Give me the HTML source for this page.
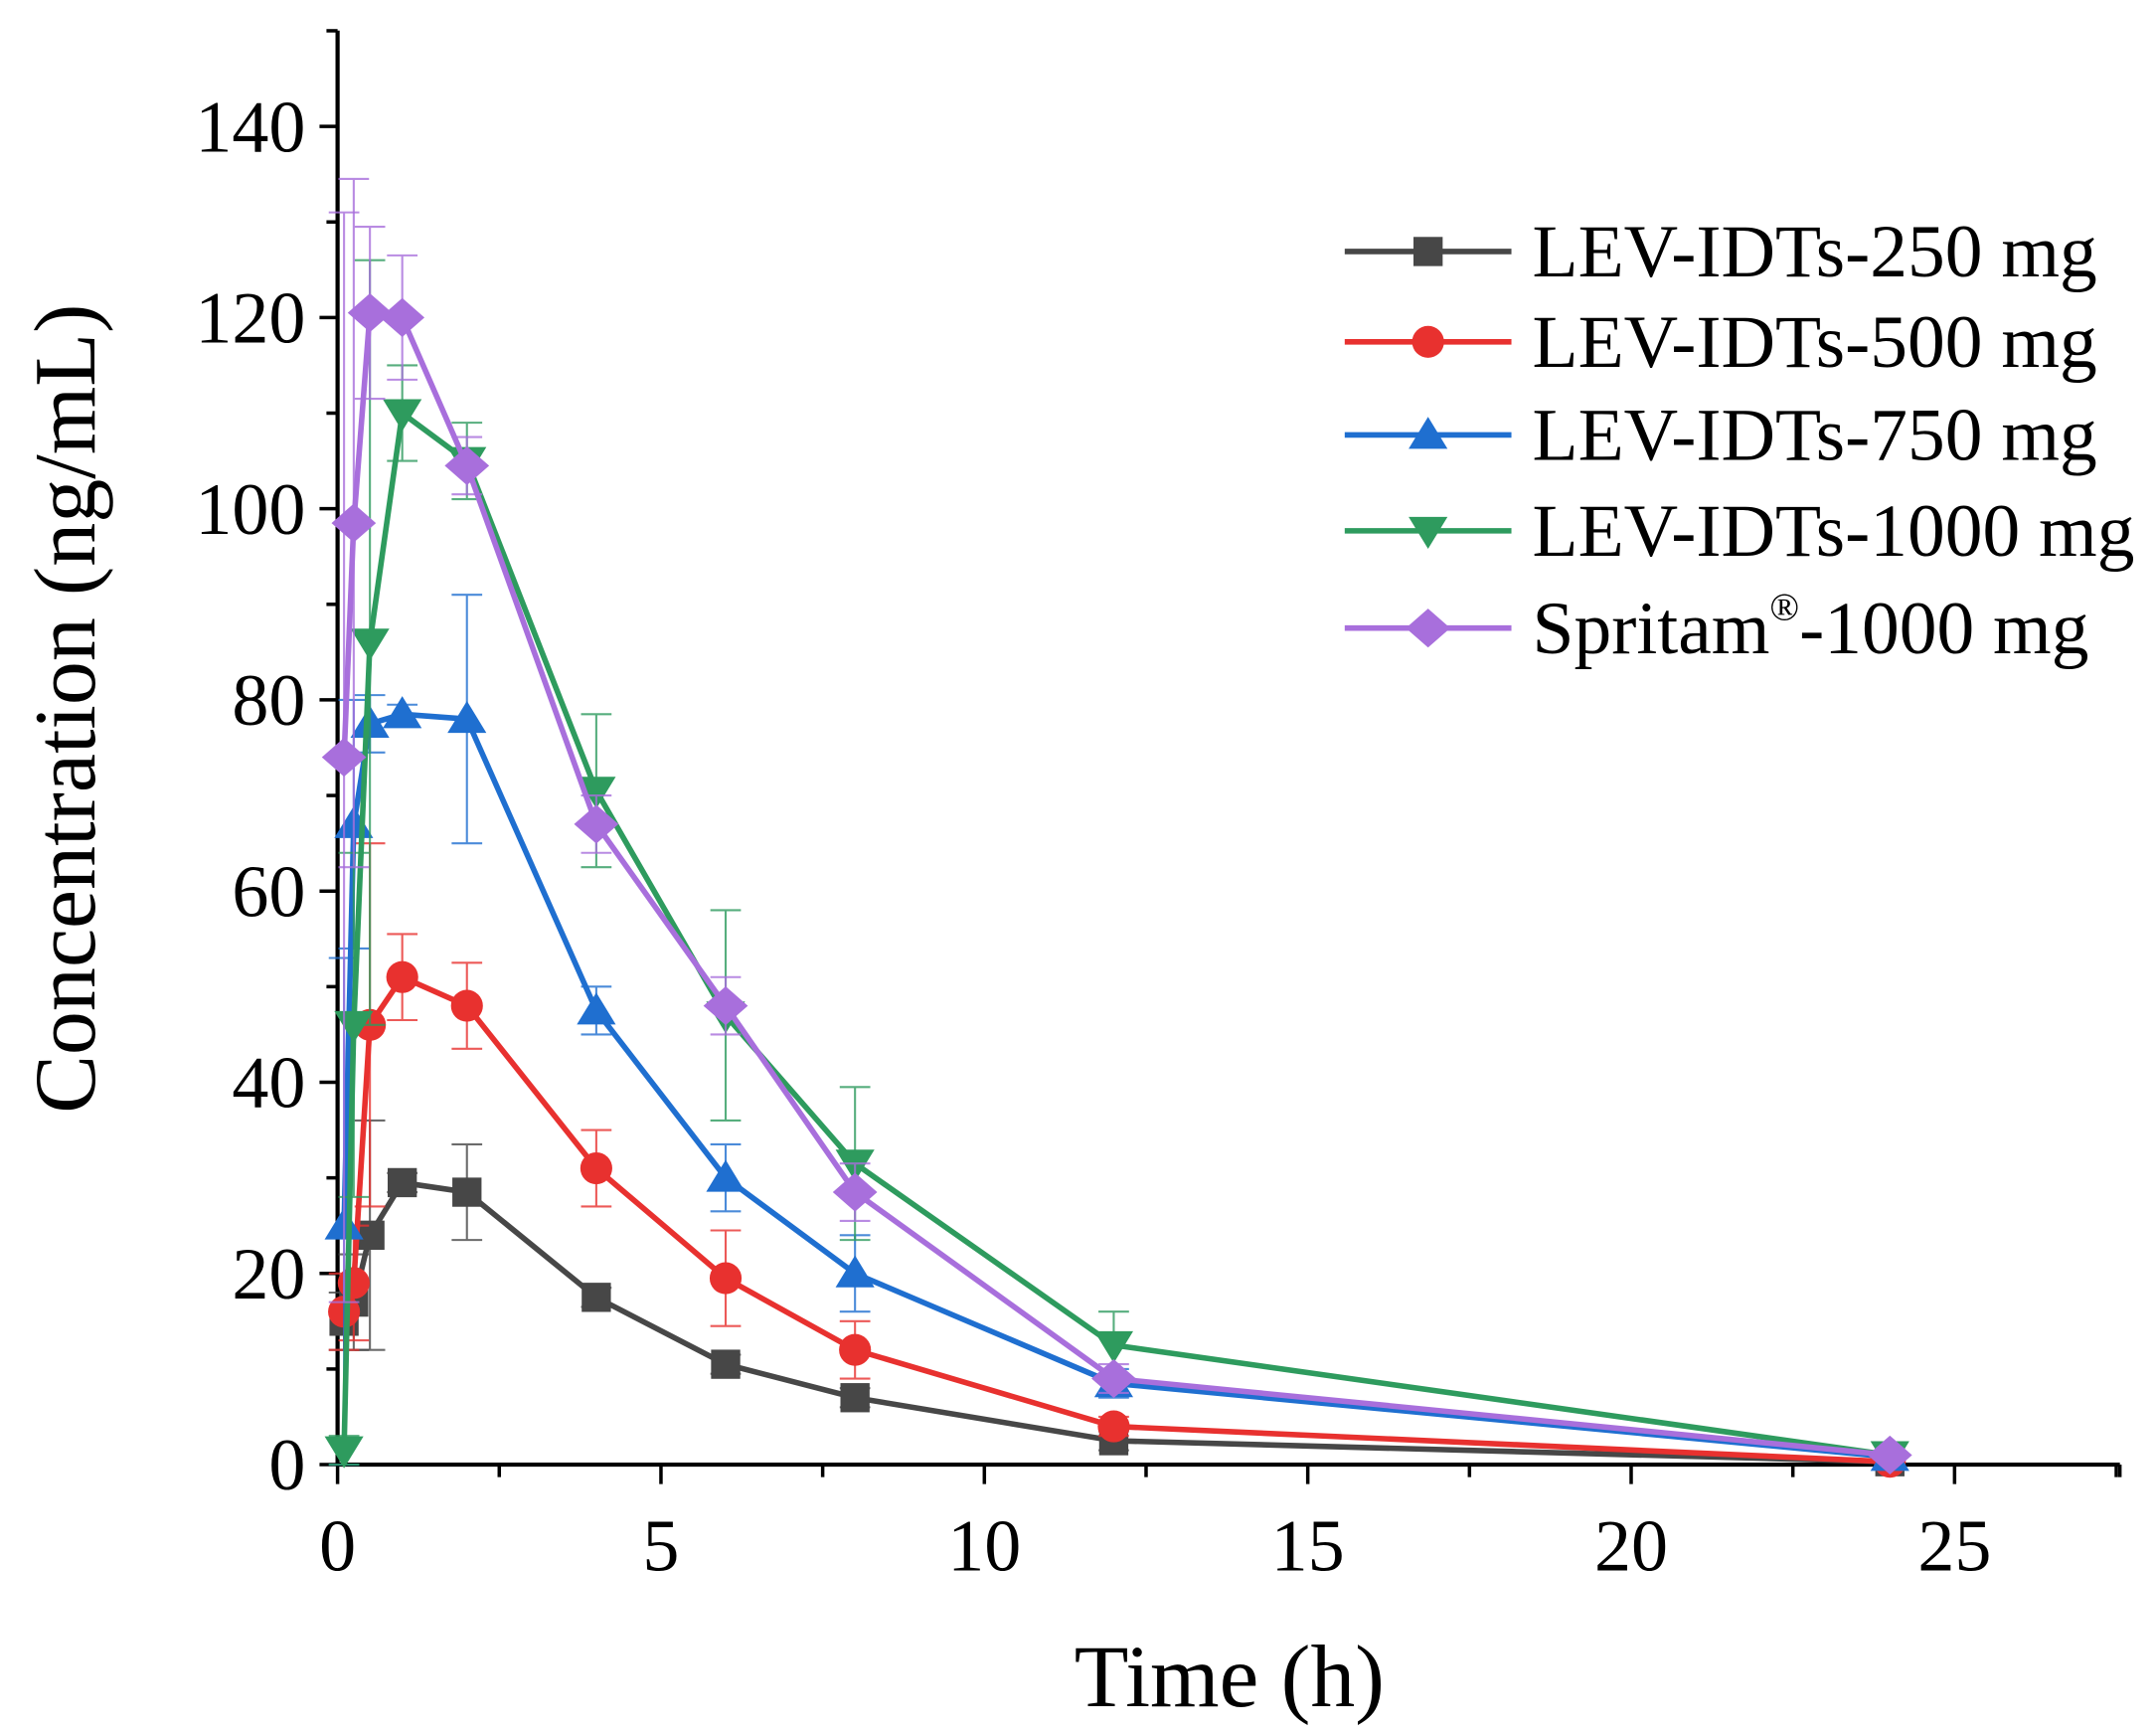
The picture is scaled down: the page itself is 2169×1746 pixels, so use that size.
<!DOCTYPE html>
<html><head><meta charset="utf-8"><style>
html,body{margin:0;padding:0;background:#fff;}
svg{display:block;}
text{font-family:"Liberation Serif",serif;fill:#000;}
</style></head><body>
<svg id="s" width="2169" height="1746" viewBox="0 0 1552 1249.3" preserveAspectRatio="none" xmlns="http://www.w3.org/2000/svg"></svg>
<script>
const s=document.getElementById('s');
const X0=243,Y0=1054,PX=46.56,PY=6.879;
const X=t=>X0+t*PX, Y=v=>Y0-v*PY;
let h='';
h+=`<line x1="${X0}" y1="22" x2="${X0}" y2="${Y0+1}" stroke="#000" stroke-width="3"/>`;
h+=`<line x1="${X0-1}" y1="${Y0}" x2="1526" y2="${Y0}" stroke="#000" stroke-width="3"/>`;
for(let v=0;v<=150;v+=10){const y=Y(v);const maj=v%20==0;h+=`<line x1="${X0-(maj?13:8)}" y1="${y}" x2="${X0}" y2="${y}" stroke="#000" stroke-width="2.5"/>`;
 if(maj)h+=`<text x="220" y="${y+18}" font-size="53" text-anchor="end">${v}</text>`;}
for(let t=0;t<=27.5;t+=2.5){const x=X(t);const maj=t%5==0;h+=`<line x1="${x}" y1="${Y0}" x2="${x}" y2="${Y0+(maj?14:9)}" stroke="#000" stroke-width="2.5"/>`;
 if(maj)h+=`<text x="${x}" y="${Y0+76}" font-size="53" text-anchor="middle">${t}</text>`;}
h+=`<line x1="1526" y1="${Y0}" x2="1526" y2="${Y0+9}" stroke="#000" stroke-width="2.5"/>`;
h+=`<text x="885" y="1228" font-size="64" text-anchor="middle">Time (h)</text>`;
h+=`<text transform="translate(68,510) rotate(-90)" font-size="63" text-anchor="middle">Concentration (ng/mL)</text>`;
const T=[0.1,0.25,0.5,1,2,4,6,8,12,24];
const S=[
 {c:'#474747',m:'sq',v:[15,17,24,29.5,28.5,17.5,10.5,7,2.5,0.3],e:[3,5,12,1,5,1,1,1,1,0.3]},
 {c:'#e8312f',m:'ci',v:[16,19,46,51,48,31,19.5,12,4,0.3],e:[4,6,19,4.5,4.5,4,5,3,1,0.3]},
 {c:'#1f6fd0',m:'up',v:[25,67,77.5,78.5,78,47.5,30,20,8.5,0.8],e:[28,13,3,1,13,2.5,3.5,4,1.5,0.3]},
 {c:'#2e9b5e',m:'dn',v:[1.5,46,86,110,105,70.5,47,31.5,12.5,1],e:[1.5,18,40,5,4,8,11,8,3.5,0.4]},
 {c:'#a86fdc',m:'di',v:[74,98.5,120.5,120,104.5,67,48,28.5,9,1],e:[57,36,9,6.5,3,3,3,3,1.5,0.3]}
];
function mk(m,x,y,c){
 if(m=='sq')return `<rect x="${x-10.5}" y="${y-10.5}" width="21" height="21" fill="${c}"/>`;
 if(m=='ci')return `<circle cx="${x}" cy="${y}" r="11.5" fill="${c}"/>`;
 if(m=='up')return `<polygon points="${x},${y-13} ${x+14},${y+10} ${x-14},${y+10}" fill="${c}"/>`;
 if(m=='dn')return `<polygon points="${x},${y+13} ${x+14},${y-10} ${x-14},${y-10}" fill="${c}"/>`;
 return `<polygon points="${x},${y-14} ${x+16},${y} ${x},${y+14} ${x-16},${y}" fill="${c}"/>`;
}
S.forEach(sr=>{
 T.forEach((t,i)=>{const x=X(t),y1=Y(sr.v[i]+sr.e[i]),y2=Y(Math.max(0,sr.v[i]-sr.e[i]));
  h+=`<g stroke="${sr.c}" stroke-width="1.5" opacity="0.8"><line x1="${x}" y1="${y1}" x2="${x}" y2="${y2}"/><line x1="${x-11}" y1="${y1}" x2="${x+11}" y2="${y1}"/><line x1="${x-11}" y1="${y2}" x2="${x+11}" y2="${y2}"/></g>`;});
 h+=`<polyline fill="none" stroke="${sr.c}" stroke-width="4" points="${T.map((t,i)=>X(t)+','+Y(sr.v[i])).join(' ')}"/>`;
 T.forEach((t,i)=>h+=mk(sr.m,X(t),Y(sr.v[i]),sr.c));
});
const L=['LEV-IDTs-250 mg','LEV-IDTs-500 mg','LEV-IDTs-750 mg','LEV-IDTs-1000 mg',null];
const LY=[181,246,313,382,452];
S.forEach((sr,i)=>{const y=LY[i];
 h+=`<line x1="968" y1="${y}" x2="1088" y2="${y}" stroke="${sr.c}" stroke-width="4"/>`+mk(sr.m,1028,y,sr.c);
 if(L[i])h+=`<text x="1103" y="${y+18}" font-size="54">${L[i]}</text>`;
 else h+=`<text x="1103" y="${y+18}" font-size="54">Spritam<tspan font-size="28" dy="-24">®</tspan><tspan dy="24">-1000 mg</tspan></text>`;
});
s.innerHTML=h;
</script>
</body></html>
